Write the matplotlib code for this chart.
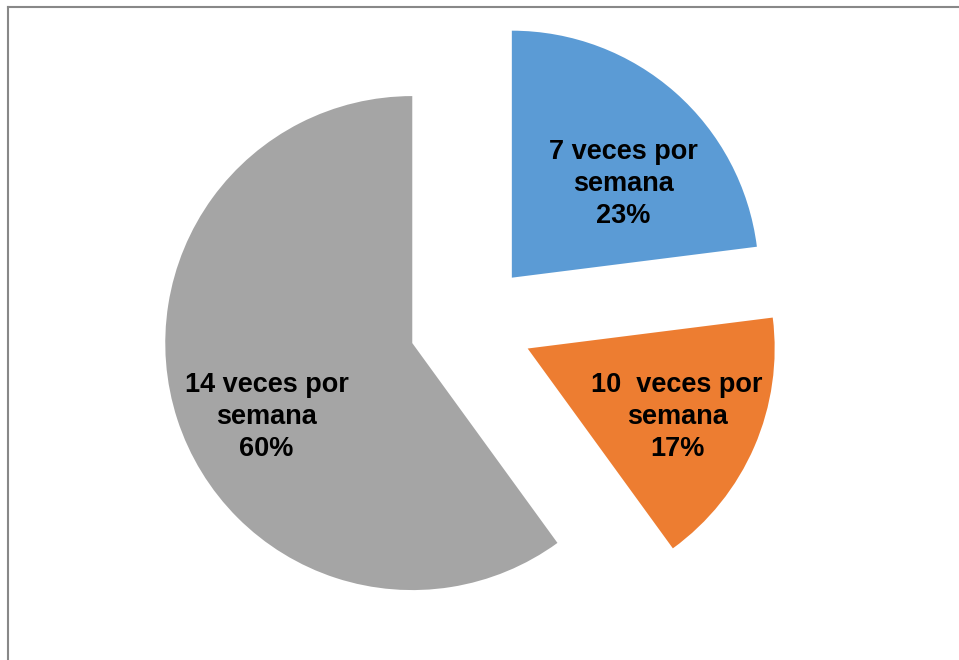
import matplotlib.pyplot as plt
from matplotlib.lines import Line2D

categorias = ['7 veces por', '10  veces por', '14 veces por']
porcentajes = [23, 17, 60]
colores = ['#5B9BD5', '#ED7D31', '#A5A5A5']

etiquetas = [c + '\nsemana\n' + str(p) + '%' for c, p in zip(categorias, porcentajes)]

plt.rcParams['font.family'] = ['Liberation Sans', 'DejaVu Sans']

fig = plt.figure(figsize=(9.59, 6.6), dpi=100)
ax = fig.add_axes([0, 0, 1, 1])

escala = 247.0  # px por unidad de radio

wedges, texts = ax.pie(porcentajes, labels=etiquetas, colors=colores,
                       startangle=90, counterclock=False,
                       explode=[0.25, 0.25, 0.25], radius=1,
                       labeldistance=0.62,
                       textprops={'fontsize': 19.5, 'fontweight': 'bold',
                                  'color': 'black', 'linespacing': 1.3},
                       wedgeprops={'linewidth': 0})

# pequeños ajustes de posicion de las etiquetas (en px)
ajustes = [(10, -21), (9, -8), (0, -27)]
for t, (dx, dy) in zip(texts, ajustes):
    t.set_horizontalalignment('center')
    t.set_verticalalignment('center')
    x, y = t.get_position()
    t.set_position((x + dx / escala, y + dy / escala))

# centro en (471, 324) px
ax.set_xlim(-471 / escala, (959 - 471) / escala)
ax.set_ylim(-(660 - 324) / escala, 324 / escala)
ax.set_aspect('auto')
ax.axis('off')

# marco del grafico
fig.add_artist(Line2D([7.5 / 959, 1.01], [1 - 6.5 / 660, 1 - 6.5 / 660],
                      color='#888888', lw=1.5, transform=fig.transFigure))
fig.add_artist(Line2D([7.5 / 959, 7.5 / 959], [1 - 6.5 / 660, -0.01],
                      color='#888888', lw=1.5, transform=fig.transFigure))

fig.savefig('out.png', dpi=100)
